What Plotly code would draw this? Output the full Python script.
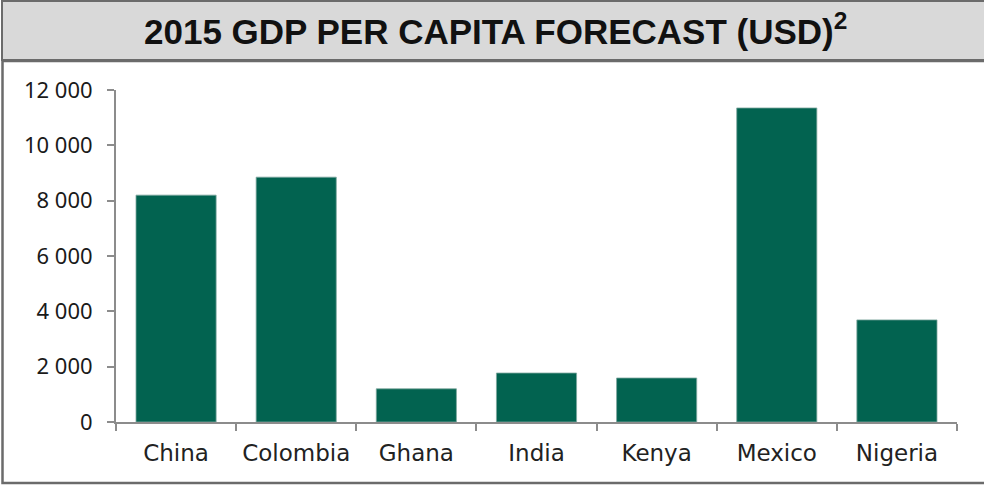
import plotly.graph_objects as go

categories = ["China", "Colombia", "Ghana", "India", "Kenya", "Mexico", "Nigeria"]
gdp_per_capita = [8200, 8850, 1200, 1770, 1590, 11350, 3690]
y_ticks = [0, 2000, 4000, 6000, 8000, 10000, 12000]

W, H = 984, 485
L, R, T, B = 116, 27, 90, 63
PW, PH = W - L - R, H - T - B

def px(x):
    return (x - L) / PW

def py(y):
    return (H - B - y) / PH

fig = go.Figure()
fig.add_trace(go.Bar(
    x=categories, y=gdp_per_capita,
    marker=dict(color="#026350", line=dict(color="#7fa79e", width=0.8)),
    width=0.667,
))

shapes = [
    # title box
    dict(type="rect", xref="paper", yref="paper", x0=px(2), x1=px(990), y0=py(60), y1=py(1),
         fillcolor="#d9d9d9", line=dict(color="#6b6b6b", width=2), layer="below"),
    # chart box
    dict(type="rect", xref="paper", yref="paper", x0=px(2.5), x1=px(990), y0=py(483), y1=py(61),
         fillcolor="white", line=dict(color="#6b6b6b", width=2.5), layer="below"),
]

fig.update_layout(
    width=W, height=H,
    margin=dict(l=L, r=R, t=T, b=B),
    paper_bgcolor="white", plot_bgcolor="rgba(0,0,0,0)",
    separators=". ",
    showlegend=False,
    shapes=shapes,
    annotations=[dict(
        text="2015 GDP PER CAPITA FORECAST (USD)<sup>2</sup>",
        xref="paper", yref="paper", x=px(495), y=py(29),
        xanchor="center", yanchor="middle", showarrow=False,
        font=dict(family="Liberation Sans", size=35, color="#111111", weight="bold"),
    )],
    font=dict(family="Noto Sans", color="#1a1a1a"),
)
fig.update_xaxes(
    showline=True, linecolor="#8c8c8c", linewidth=2,
    ticks="outside", tickson="boundaries", ticklen=7, tickcolor="#8c8c8c", tickwidth=2,
    tickfont=dict(family="DejaVu Sans", size=23, color="#222222"), showgrid=False,
    ticklabelstandoff=9,
)
fig.update_yaxes(
    range=[0, 12000], tickvals=y_ticks, tickformat=",d",
    showline=True, linecolor="#8c8c8c", linewidth=2,
    ticks="outside", ticklen=7, tickcolor="#8c8c8c", tickwidth=2,
    tickfont=dict(family="Noto Sans", size=22, color="#1a1a1a"), showgrid=False, zeroline=False,
    ticklabelstandoff=10,
)

fig.write_html("out.html")
